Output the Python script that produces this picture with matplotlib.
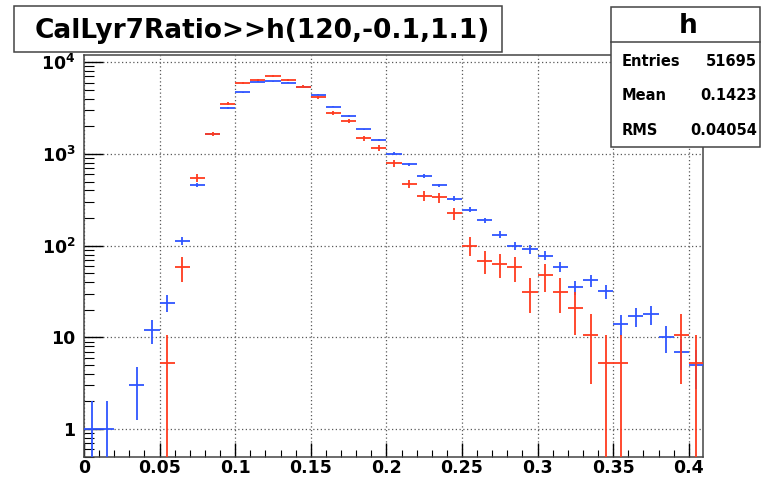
import numpy as np
import matplotlib
matplotlib.use('Agg')
import matplotlib.pyplot as plt
from matplotlib.patches import Rectangle
from matplotlib.lines import Line2D

# bins of width 0.01 from 0 to 0.41 (h(120,-0.1,1.1))
bin_centers = [0.005 + 0.01 * i for i in range(41)]

blue_counts = [1, 1, 0, 3, 12, 24, 113, 458, 1670, 3157,
               4720, 6164, 6230, 5970, 5420, 4450, 3270, 2580, 1850, 1416,
               1007, 771, 574, 455, 326, 247, 189, 132, 99, 91,
               78, 59, 35, 42, 32, 14, 17, 18, 10, 7, 5]

red_counts = [0, 0, 0, 0, 0, 1, 11, 105, 316, 670,
              1122, 1222, 1358, 1222, 1034, 791, 530, 433, 283, 222,
              151, 90, 67, 64, 43, 19, 13, 12, 11, 6,
              9, 6, 4, 2, 1, 1, 0, 0, 0, 2, 1]
red_scale = 5.26

title = 'CalLyr7Ratio>>h(120,-0.1,1.1)'
stats_name = 'h'
stats_labels = ['Entries', 'Mean', 'RMS']
stats_values = ['51695', '0.1423', '0.04054']

x_ticks = [0, 0.05, 0.1, 0.15, 0.2, 0.25, 0.3, 0.35, 0.4]
x_labels = ['0', '0.05', '0.1', '0.15', '0.2', '0.25', '0.3', '0.35', '0.4']
y_ticks = [1, 10, 100, 1000, 10000]
y_labels = ['1', '10', r'$10^{2}$', r'$10^{3}$', r'$10^{4}$']

plt.rcParams['font.family'] = 'DejaVu Sans'
plt.rcParams['mathtext.default'] = 'bf'

W, H = 761, 478
fig = plt.figure(figsize=(W / 100, H / 100), dpi=100)
ax = fig.add_axes([84 / W, 1 - 456.7 / H, (703.3 - 84) / W, (456.7 - 55) / H])


def draw_hist(counts, scale, color):
    x = np.array(bin_centers)
    n = np.array(counts, dtype=float)
    keep = n > 0
    x, n = x[keep], n[keep]
    y = n * scale
    err = np.sqrt(n) * scale
    lo = np.minimum(err, y - 1e-3)
    ax.errorbar(x, y, xerr=0.005, yerr=[lo, err], fmt='none',
                ecolor=color, elinewidth=1.3, capsize=0, zorder=3)


draw_hist(blue_counts, 1.0, '#2f55ff')
draw_hist(red_counts, red_scale, '#ff3b1f')

ax.set_yscale('log')
ax.set_xlim(0, 0.4096)
ax.set_ylim(0.5, 1.2e4)

ax.set_xticks(x_ticks)
ax.set_xticklabels(x_labels, fontsize=12.5, fontweight='bold')
ax.set_xticks(np.arange(0, 0.41, 0.01), minor=True)
ax.set_yticks(y_ticks)
ax.set_yticklabels(y_labels, fontsize=12.5, fontweight='bold')

ax.tick_params(axis='x', which='major', direction='in', length=10, width=1, pad=2)
ax.tick_params(axis='x', which='minor', direction='in', length=5, width=0.8)
ax.tick_params(axis='y', which='major', direction='in', length=14, width=1, pad=6)
ax.tick_params(axis='y', which='minor', direction='in', length=7, width=0.8, labelleft=False)

ax.grid(True, which='major', linestyle=(0, (1, 2)), color='0.35', linewidth=0.9)
for s in ax.spines.values():
    s.set_linewidth(1.1)
    s.set_color('#444444')

# title box
fig.add_artist(Rectangle((14 / W, 1 - 51.7 / H), (502 - 14) / W, (51.7 - 6) / H,
                         transform=fig.transFigure, facecolor='white',
                         edgecolor='#444444', linewidth=1.1, zorder=5))
fig.text(262 / W, 1 - 31 / H, title, ha='center', va='center',
         fontsize=19, fontweight='bold', zorder=6)

# stats box
fig.add_artist(Rectangle((611 / W, 1 - 146.7 / H), (760 - 611) / W, (146.7 - 6.7) / H,
                         transform=fig.transFigure, facecolor='white',
                         edgecolor='#444444', linewidth=1.1, zorder=5))
fig.add_artist(Line2D([611 / W, 760 / W], [1 - 42.3 / H, 1 - 42.3 / H],
                      transform=fig.transFigure, color='#444444', linewidth=1.1, zorder=6))
fig.text(688 / W, 1 - 26 / H, stats_name, ha='center', va='center',
         fontsize=19, fontweight='bold', zorder=6)
for i, (lab, val) in enumerate(zip(stats_labels, stats_values)):
    yy = 1 - (61.7 + 34.2 * i) / H
    fig.text(621.7 / W, yy, lab, ha='left', va='center', fontsize=10.5,
             fontweight='bold', zorder=6)
    fig.text(756.7 / W, yy, val, ha='right', va='center', fontsize=10.5,
             fontweight='bold', zorder=6)

fig.savefig('out.png', dpi=100)
